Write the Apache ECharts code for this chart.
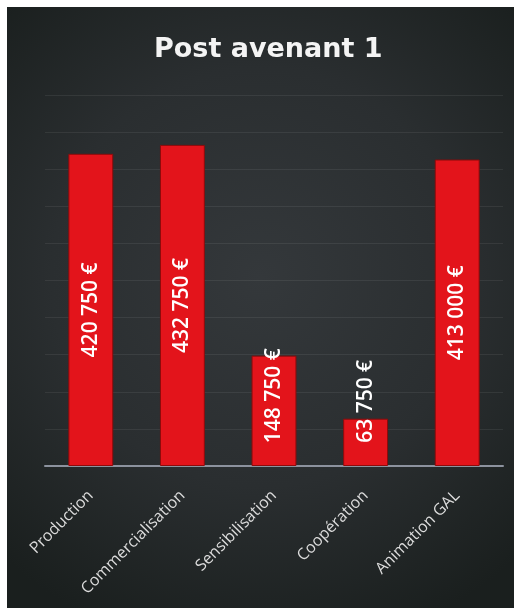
<!DOCTYPE html>
<html>
<head>
<meta charset="utf-8">
<script src="https://cdn.jsdelivr.net/npm/echarts@6/dist/echarts.min.js"></script>
<style>
html,body{margin:0;padding:0;background:#fff;}
#chart{position:absolute;left:7px;top:7px;width:507px;height:601px;}
</style>
</head>
<body>
<div id="chart"></div>
<script>
const title = 'Post avenant 1';
const categories = ['Production', 'Commercialisation', 'Sensibilisation', 'Coopération', 'Animation GAL'];
const values = [420750, 432750, 148750, 63750, 413000];
const labelShift = [0, 0, 15, 41, 0];

function fmt(v) {
  return String(v).replace(/\B(?=(\d{3})+(?!\d))/g, '\u00A0') + '\u00A0€';
}

const chart = echarts.init(document.getElementById('chart'));
chart.setOption({
  backgroundColor: {
    type: 'radial', x: 0.5, y: 0.45, r: 0.75,
    colorStops: [
      {offset: 0, color: '#34383b'},
      {offset: 0.55, color: '#2a2e30'},
      {offset: 1, color: '#1a1f1e'}
    ]
  },
  title: {
    text: title, left: 142, top: 24,
    textStyle: {color: '#f4f4f4', fontSize: 27, fontWeight: 'bold', fontFamily: 'DejaVu Sans'}
  },
  grid: {left: 38, right: 11, top: 88, bottom: 142},
  xAxis: {
    type: 'category', data: categories,
    axisLine: {lineStyle: {color: '#8c929e', width: 2}},
    axisTick: {show: false},
    axisLabel: {
      interval: 0, rotate: 45, margin: 27, color: '#dcdcdc',
      fontSize: 16, fontFamily: 'Open Sans'
    }
  },
  yAxis: {
    type: 'value', min: 0, max: 500000, interval: 50000,
    axisLabel: {show: false}, axisLine: {show: false}, axisTick: {show: false},
    splitLine: {lineStyle: {color: 'rgba(255,255,255,0.07)', width: 1}}
  },
  series: [{
    type: 'bar', barWidth: '49%',
    data: values.map((v, i) => ({
      value: v,
      label: {offset: [labelShift[i], 0]}
    })),
    itemStyle: {color: '#e3141b', borderColor: '#8e0b0b', borderWidth: 1},
    label: {
      show: true, position: 'inside', rotate: 90,
      color: '#ffffff', fontSize: 21, fontWeight: 600, fontFamily: 'Open Sans',
      formatter: p => fmt(p.value)
    }
  }]
});
</script>
</body>
</html>
